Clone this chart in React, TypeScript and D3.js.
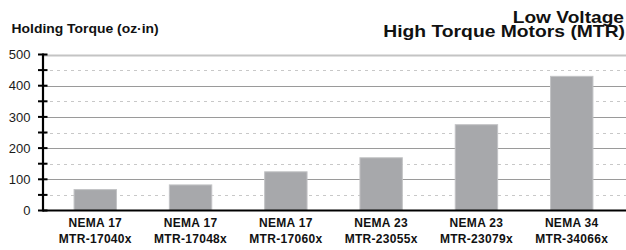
import React from "react";
import * as d3 from "d3";

const categoriesTop = ["NEMA 17", "NEMA 17", "NEMA 17", "NEMA 23", "NEMA 23", "NEMA 34"];
const categoriesBottom = ["MTR-17040x", "MTR-17048x", "MTR-17060x", "MTR-23055x", "MTR-23079x", "MTR-34066x"];
const torqueValues = [67, 82, 124, 169, 275, 430];
const majorTicks = [0, 100, 200, 300, 400, 500];
const minorTicks = [50, 150, 250, 350, 450];
const yAxisTitle = "Holding Torque (oz·in)";
const chartTitle = ["Low Voltage", "High Torque Motors (MTR)"];

const W = 626;
const H = 250;
const FONT = "Liberation Sans, Arial, Helvetica, sans-serif";

export default function App() {
  const axisX = 43;
  const y = d3.scaleLinear().domain([0, 500]).range([210.5, 54.5]);
  const x = d3
    .scaleBand<number>()
    .domain(d3.range(torqueValues.length))
    .range([axisX, 624])
    .paddingInner(0.555)
    .paddingOuter(0.326);

  return (
    <svg
      width={W}
      height={H}
      style={{ position: "absolute", left: 0, top: 0, background: "#fff", fontFamily: FONT }}
    >
      <rect x={0} y={0} width={W} height={H} fill="#fff" />
      {/* dotted minor gridlines */}
      {minorTicks.map((t) => (
        <line
          key={"m" + t}
          x1={axisX}
          x2={W}
          y1={Math.round(y(t)) + 0.5}
          y2={Math.round(y(t)) + 0.5}
          stroke="#c8c8c8"
          strokeWidth={1}
          strokeDasharray="3,4"
        />
      ))}
      {/* solid major gridlines */}
      {majorTicks
        .filter((t) => t > 0)
        .map((t) => (
          <line
            key={"g" + t}
            x1={axisX}
            x2={W}
            y1={Math.round(y(t)) + 0.5}
            y2={Math.round(y(t)) + 0.5}
            stroke={t === 500 ? "#c4c4c4" : "#9a9a9a"}
            strokeWidth={t === 500 ? 2 : 1}
          />
        ))}
      {/* bars */}
      {torqueValues.map((v, i) => (
        <rect
          key={"b" + i}
          x={x(i)!}
          y={y(v)}
          width={x.bandwidth()}
          height={y(0) - y(v)}
          fill="#a7a8ab"
          stroke="#c2c3c5"
          strokeWidth={1}
        />
      ))}
      {/* x axis */}
      <line x1={axisX} x2={W} y1={y(0)} y2={y(0)} stroke="#000" strokeWidth={2} />
      {/* y axis */}
      <line x1={axisX} x2={axisX} y1={y(500) - 1} y2={y(0) + 1} stroke="#000" strokeWidth={2.2} />
      {[...majorTicks, ...minorTicks].map((t) => (
        <line
          key={"t" + t}
          x1={axisX - 5}
          x2={axisX + 4.5}
          y1={y(t)}
          y2={y(t)}
          stroke="#000"
          strokeWidth={2}
        />
      ))}
      {majorTicks.map((t) => (
        <text
          key={"l" + t}
          x={30.5}
          y={y(t)}
          dy="0.36em"
          textAnchor="end"
          fontSize={13}
          fill="#1a1a1a"
        >
          {t}
        </text>
      ))}
      {/* category labels */}
      {torqueValues.map((_, i) => {
        const cx = x(i)! + x.bandwidth() / 2;
        return (
          <g key={"c" + i} fontWeight="bold" fontSize={12} fill="#111" textAnchor="middle">
            <text x={cx} y={226.5} letterSpacing={0.3}>
              {categoriesTop[i]}
            </text>
            <text x={cx} y={243} letterSpacing={0.3}>
              {categoriesBottom[i]}
            </text>
          </g>
        );
      })}
      {/* titles */}
      <text
        transform="translate(11.5,33) scale(1.07,1)"
        fontSize={13}
        fontWeight="bold"
        fill="#111"
      >
        {yAxisTitle}
      </text>
      <g fontSize={16.5} fontWeight="bold" fill="#111" textAnchor="end">
        <text transform="translate(624,22.5) scale(1.16,1)">{chartTitle[0]}</text>
        <text transform="translate(625,36.5) scale(1.17,1)">{chartTitle[1]}</text>
      </g>
    </svg>
  );
}
